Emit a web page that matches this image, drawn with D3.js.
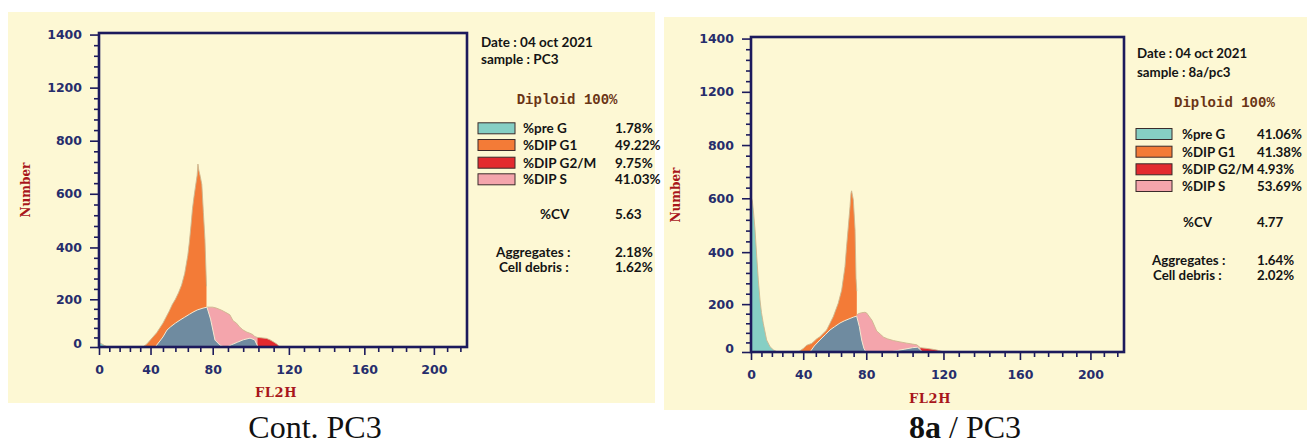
<!DOCTYPE html>
<html>
<head>
<meta charset="utf-8">
<script src="https://cdn.jsdelivr.net/npm/d3@7"></script>
<style>
  body { margin: 0; background: #fff; }
  svg { display: block; }
</style>
</head>
<body>
<svg id="chart" width="1307" height="446"></svg>
<script>
// ticks as printed by the cytometer software
const xTickValues = [0, 40, 80, 120, 160, 200];
const xMax = 220;
const yTickValues = [0, 200, 400, 600, 800, 1200, 1400];

const phaseNames = ["%pre G", "%DIP G1", "%DIP G2/M", "%DIP S"];
const statNames = ["%CV", "Aggregates :", "Cell debris :"];

// Cont. PC3  -- histogram pieces as [FL2H channel, count]
const ctrlSample = "sample : PC3";
const ctrlPhasePct = ["1.78%", "49.22%", "9.75%", "41.03%"];
const ctrlStats = ["5.63", "2.18%", "1.62%"];
const ctrlPreG = [[0, 18], [2, 14], [4, 7], [6, 2], [8, 0]];
const ctrlG1 = [[34, 0], [37, 12], [40, 30], [42, 45], [44, 60], [46, 80], [48, 100], [50, 125], [52, 150],
  [54, 178], [56, 200], [58, 225], [60, 255], [62, 300], [63, 335], [64, 370], [65, 420], [66, 480],
  [67, 545], [68, 590], [69, 630], [70, 670], [70.5, 712], [71, 690], [72, 665], [73, 635], [74, 530],
  [75, 430], [76, 250]];
const ctrlS = [[76, 167], [78, 167], [80, 167], [82, 163], [84.7, 154], [87.5, 142], [89, 135], [90.7, 110],
  [92.5, 100], [94, 85], [95.8, 72], [98, 62], [99.5, 58], [101, 52], [102.1, 44], [103.5, 40]];
const ctrlG2M = [[103.5, 40], [105, 39], [108.3, 36], [110, 30], [111.8, 22], [113.6, 13], [114.3, 8], [115, 0]];
const ctrlModelS = [[43, 0], [46, 25], [48, 42], [50.6, 71], [53, 85], [56, 100], [59, 113], [62, 125],
  [65, 137], [67.3, 146], [70, 155], [73.8, 163], [76.3, 167], [78.6, 117], [80.2, 67], [81.2, 29],
  [83.8, 8], [86, 0]];
const ctrlModelG2 = [[87.5, 0], [90, 10], [93, 20], [96, 30], [99.6, 37], [102, 30], [103.8, 0]];

// 8a / PC3
const treatSample = "sample : 8a/pc3";
const treatPhasePct = ["41.06%", "41.38%", "4.93%", "53.69%"];
const treatStats = ["4.77", "1.64%", "2.02%"];
const treatPreG = [[0, 606], [1, 590], [1.8, 556], [3.1, 482], [4.4, 382], [5.6, 293], [6.9, 216], [8, 165],
  [9.4, 120], [12, 50], [14.6, 22], [17.1, 9], [19.7, 2], [22, 0]];
const treatG1 = [[36.2, 0], [40.1, 15], [42.2, 28], [45.4, 36], [48.6, 55], [50.6, 64], [54.9, 92], [57, 120],
  [59.1, 148], [62.2, 203], [64.4, 254], [66.5, 344], [67.5, 420], [68.6, 494], [69.7, 569], [70.3, 619],
  [70.7, 628], [71.8, 594], [72.9, 482], [73.5, 300], [74, 250]];
const treatS = [[74, 155], [75, 160], [77, 164], [79.2, 166], [80.2, 163], [83, 132], [85.4, 88], [87.5, 73],
  [89, 62], [91, 55], [94, 48], [97, 43], [101, 37], [104, 33], [106.2, 30], [108, 18]];
const treatG2M = [[108, 18], [111.4, 15], [114, 12], [116.6, 8], [119, 3], [121, 0]];
const treatModelS = [[44.3, 0], [47, 25], [50.6, 50], [54, 72], [57, 92], [60, 106], [63.3, 121], [66, 130],
  [69.7, 140], [72, 146], [73.9, 150], [75.6, 106], [77.1, 50], [78.5, 15], [79.8, 0]];
const treatModelG2 = [[92, 0], [96, 6], [100, 12], [104, 18], [106.5, 20], [108, 10], [109, 0]];

// layout
const xFrac = [0, 0.14, 0.309, 0.516, 0.721, 0.91, 1];
const yFrac = [0, 0.152, 0.317, 0.488, 0.657, 0.826, 0.995];
const col = {
  bg: "#fdf8d4", frame: "#1c1a5c", tick: "#262d6c", title: "#a8161b",
  preG: "#86cfc4", g1: "#f37b37", g2m: "#e32a2f", s: "#f4a5ac", model: "#6f8ba0"
};
const phaseColors = [col.preG, col.g1, col.g2m, col.s];

const svg = d3.select("#chart");

const panels = [
  {
    bg: [8, 12, 647, 391], box: { x: 99, y: 33, w: 368, h: 314 },
    numberPos: [26, 190], fl2hPos: [276, 392],
    sample: ctrlSample, pct: ctrlPhasePct, stats: ctrlStats,
    layers: [[ctrlPreG, col.preG], [ctrlG1, col.g1], [ctrlS, col.s], [ctrlG2M, col.g2m]],
    models: [ctrlModelS, ctrlModelG2],
    leg: { font: 13.5, dateX: 481, dateY: 41.5, sampleY: 58.5, dipX: 516.7, dipY: 100,
      swX: 478, swW: 37, nameX: 523, valX: 615, rows: [128.3, 145, 162.7, 179.3],
      statX: [540, 496, 499], statY: [214, 251.7, 266.7] }
  },
  {
    bg: [664, 17, 643, 393], box: { x: 751, y: 37, w: 373, h: 315 },
    numberPos: [676, 195], fl2hPos: [930, 398],
    sample: treatSample, pct: treatPhasePct, stats: treatStats,
    layers: [[treatPreG, col.preG], [treatG1, col.g1], [treatS, col.s], [treatG2M, col.g2m]],
    models: [treatModelS, treatModelG2],
    leg: { font: 13.3, dateX: 1137, dateY: 52.7, sampleY: 71.7, dipX: 1174, dipY: 102.7,
      swX: 1136, swW: 36, nameX: 1182, valX: 1257, rows: [134, 151.7, 169.3, 186],
      statX: [1183, 1152, 1153], statY: [221.7, 260, 275] }
  }
];

function yMinor() {
  const out = [];
  for (let i = 0; i < yTickValues.length - 1; i++) {
    const a = yTickValues[i], b = yTickValues[i + 1];
    for (let k = 1; k < 5; k++) out.push(a + (b - a) * k / 5);
  }
  return out;
}
const xMinor = d3.range(0, xMax, 8).filter(v => v % 40 !== 0);

function drawPanel(p) {
  const g = svg.append("g");
  g.append("rect").attr("x", p.bg[0]).attr("y", p.bg[1]).attr("width", p.bg[2]).attr("height", p.bg[3])
    .attr("fill", col.bg);

  const b = p.box;
  const x = d3.scaleLinear().domain([...xTickValues, xMax]).range(xFrac.map(f => b.x + f * b.w));
  const y = d3.scaleLinear().domain(yTickValues).range(yFrac.map(f => b.y + b.h - f * b.h));

  const area = d3.area().x(d => x(d[0])).y0(y(0)).y1(d => y(d[1]));
  const topLine = d3.line().x(d => x(d[0])).y(d => y(d[1]));

  // coloured histogram pieces
  p.layers.forEach(([data, c]) => {
    g.append("path").attr("d", area(data)).attr("fill", c);
  });
  p.layers.forEach(([data]) => {
    g.append("path").attr("d", topLine(data)).attr("fill", "none")
      .attr("stroke", "#cdb78f").attr("stroke-width", 0.9);
  });
  // fitted S / G2 model underneath
  p.models.forEach(data => {
    g.append("path").attr("d", area(data)).attr("fill", col.model);
    g.append("path").attr("d", topLine(data)).attr("fill", "none")
      .attr("stroke", "#f3ead2").attr("stroke-width", 1);
  });

  // axes
  const axY = g.append("g").attr("transform", `translate(${b.x},0)`)
    .call(d3.axisLeft(y).tickValues(yTickValues).tickFormat(d3.format("d")).tickSize(9).tickPadding(8));
  axY.select(".domain").remove();
  axY.selectAll("text").filter(d => d === 0).attr("y", -4);
  g.append("g").attr("transform", `translate(${b.x},0)`)
    .call(d3.axisLeft(y).tickValues(yMinor()).tickSize(5).tickFormat(""))
    .select(".domain").remove();

  const axX = g.append("g").attr("transform", `translate(0,${b.y + b.h})`)
    .call(d3.axisBottom(x).tickValues(xTickValues).tickFormat(d3.format("d")).tickSize(8).tickPadding(10));
  axX.select(".domain").remove();
  g.append("g").attr("transform", `translate(0,${b.y + b.h})`)
    .call(d3.axisBottom(x).tickValues(xMinor).tickSize(5).tickFormat(""))
    .select(".domain").remove();

  g.selectAll(".tick line").attr("stroke", col.frame).attr("stroke-width", 1.6);
  g.selectAll(".tick text").attr("fill", col.tick)
    .style("font-family", "'DejaVu Sans', Verdana, sans-serif")
    .style("font-weight", "bold").style("font-size", "12.5px");

  g.append("rect").attr("x", b.x).attr("y", b.y).attr("width", b.w).attr("height", b.h)
    .attr("fill", "none").attr("stroke", col.frame).attr("stroke-width", 2.6);

  // axis titles
  const serif = "'DejaVu Serif', Georgia, serif";
  g.append("text").attr("transform", `translate(${p.numberPos[0]},${p.numberPos[1]}) rotate(-90)`)
    .attr("text-anchor", "middle").attr("dominant-baseline", "central")
    .attr("fill", col.title).style("font-family", serif).style("font-weight", "bold")
    .style("font-size", "12px").text("Number");
  g.append("text").attr("x", p.fl2hPos[0]).attr("y", p.fl2hPos[1])
    .attr("text-anchor", "middle").attr("dominant-baseline", "central")
    .attr("fill", col.title).style("font-family", serif).style("font-weight", "bold")
    .style("font-size", "13px").style("letter-spacing", "0.6px").text("FL2H");

  // legend block
  const L = p.leg;
  const txt = (xx, yy, s) => g.append("text").attr("x", xx).attr("y", yy)
    .attr("dominant-baseline", "central").attr("fill", "#141414")
    .style("font-family", "Lato, 'Open Sans', sans-serif").style("font-weight", "bold")
    .style("font-size", L.font + "px").text(s);

  txt(L.dateX, L.dateY, "Date : 04 oct 2021");
  txt(L.dateX, L.sampleY, p.sample);
  g.append("text").attr("x", L.dipX).attr("y", L.dipY).attr("dominant-baseline", "central")
    .attr("fill", "#6a3414").style("font-family", "'Liberation Mono', 'Courier New', monospace")
    .style("font-size", "14px").style("font-weight", "bold").text("Diploid 100%");

  phaseNames.forEach((name, i) => {
    g.append("rect").attr("x", L.swX).attr("y", L.rows[i] - 5.5).attr("width", L.swW).attr("height", 11)
      .attr("fill", phaseColors[i]).attr("stroke", "#3b2b2b").attr("stroke-width", 1);
    txt(L.nameX, L.rows[i], name);
    txt(L.valX, L.rows[i], p.pct[i]);
  });
  statNames.forEach((name, i) => {
    txt(L.statX[i], L.statY[i], name);
    txt(L.valX, L.statY[i], p.stats[i]);
  });
}

panels.forEach(drawPanel);

// captions under each panel
const cap = svg.append("g").style("font-family", "'Liberation Serif', 'Times New Roman', serif")
  .style("font-size", "32px").attr("fill", "#111");
cap.append("text").attr("x", 315).attr("y", 438).attr("text-anchor", "middle").text("Cont. PC3");
const cap2 = cap.append("text").attr("x", 965).attr("y", 438).attr("text-anchor", "middle");
cap2.append("tspan").style("font-weight", "bold").text("8a");
cap2.append("tspan").text(" / PC3");
</script>
</body>
</html>
